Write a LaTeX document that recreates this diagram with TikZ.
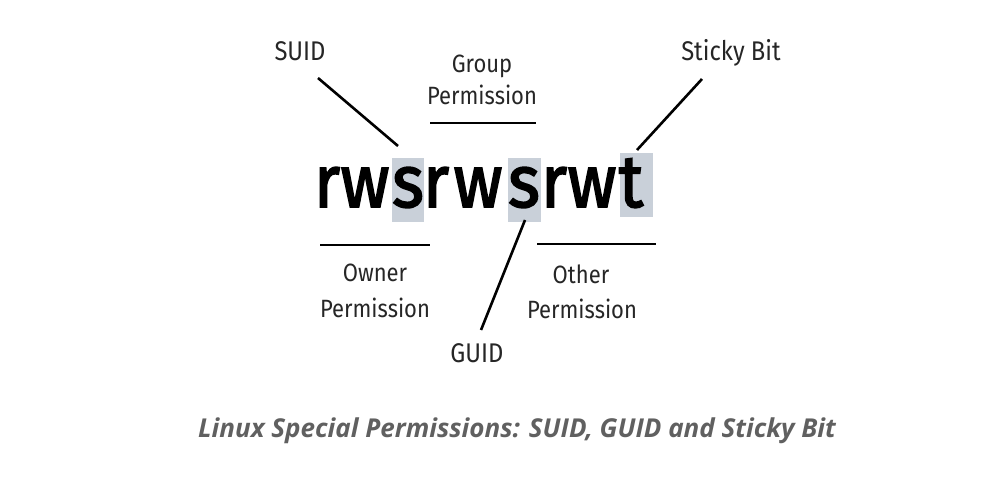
\documentclass[tikz,border=0pt]{standalone}
\usepackage{fontspec}
\setmainfont{Fira Sans}
\newfontfamily\labelfont{Fira Sans}[FakeStretch=0.88]
\newfontfamily\bigfont{Fira Sans}[FakeStretch=0.92, FakeBold=2.2]
\newfontfamily\capfont{Open Sans}
\definecolor{hl}{HTML}{C9D0D9}
\definecolor{capgray}{HTML}{606060}
\tikzset{
  lbl/.style={font=\labelfont\fontsize{25}{25}\selectfont, inner sep=0pt, anchor=base, text=black!85},
  biglbl/.style={lbl, font=\labelfont\fontsize{27}{27}\selectfont},
  letter/.style={font=\bigfont\fontsize{74}{74}\selectfont, inner sep=0pt, anchor=base},
  hlbox/.style={fill=hl, draw=none},
  conn/.style={line width=2.6pt, black},
}
\begin{document}
\begin{tikzpicture}[x=1pt,y=-1pt]
\useasboundingbox[fill=white] (0,0) rectangle (1004,481);
% highlight boxes
\fill[hlbox] (392,158) rectangle (424,222);
\fill[hlbox] (508,158) rectangle (541,222);
\fill[hlbox] (620,153) rectangle (653,217);
% letters
\node[letter] (l1) at (327,207) {r};
\node[letter] (l2) at (365,207) {w};
\node[letter] (l3) at (408,207) {s};
\node[letter] (l4) at (436,207) {r};
\node[letter] (l5) at (478,207) {w};
\node[letter] (l6) at (524,207) {s};
\node[letter] (l7) at (554,207) {r};
\node[letter] (l8) at (592,207) {w};
\node[letter] (l9) at (631,207) {t};
% labels
\node[biglbl] (suid) at (300,61) {SUID};
\node[lbl] (group) at (482,73) {Group};
\node[lbl] (groupp) at (482,105) {Permission};
\node[biglbl] (sticky) at (731,61) {Sticky Bit};
\node[lbl] (owner) at (375,281) {Owner};
\node[lbl] (ownerp) at (375,317) {Permission};
\node[lbl] (other) at (581,283) {Other};
\node[lbl] (otherp) at (582,318) {Permission};
\node[biglbl] (guid) at (477,362) {GUID};
% caption
\node[font=\capfont\bfseries\itshape\fontsize{26}{26}\selectfont, text=capgray, anchor=base, inner sep=0pt] (cap) at (517,437) {Linux Special Permissions: SUID, GUID and Sticky Bit};
% connector end points
\coordinate (suidA) at (318,78);
\coordinate (suidB) at (398,146);
\coordinate (stA) at (702,79);
\coordinate (stB) at (637,150);
\coordinate (guA) at (525,220);
\coordinate (guB) at (481,330);
\coordinate (grA) at (430,123);
\coordinate (grB) at (536,123);
\coordinate (owA) at (320,245);
\coordinate (owB) at (430,245);
\coordinate (otA) at (537,244);
\coordinate (otB) at (656,244);
\draw[conn] (suidA) -- (suidB);
\draw[conn] (stA) -- (stB);
\draw[conn] (guA) -- (guB);
\draw[conn] (grA) -- (grB);
\draw[conn] (owA) -- (owB);
\draw[conn] (otA) -- (otB);
\end{tikzpicture}
\end{document}
